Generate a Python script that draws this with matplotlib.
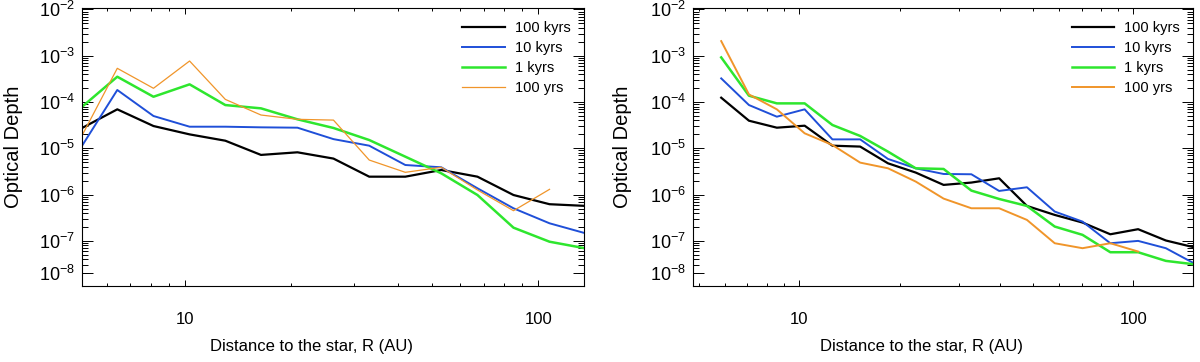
import matplotlib

matplotlib.use("Agg")
from matplotlib import pyplot as plt
from matplotlib.ticker import FixedFormatter, FixedLocator, LogLocator, NullFormatter

plt.rcParams["font.family"] = ["Liberation Sans", "DejaVu Sans"]
plt.rcParams["mathtext.fontset"] = "custom"
plt.rcParams["mathtext.rm"] = "Liberation Sans"
plt.rcParams["mathtext.it"] = "Liberation Sans:italic"

LABELS = ["100 kyrs", "10 kyrs", "1 kyrs", "100 yrs"]
COLORS = ["black", "#1f4fd8", "#2ee62e", "#f0952a"]

# left panel
left_r = [5.09, 6.43, 8.14, 10.3, 13.0, 16.4, 20.8, 26.3, 33.2, 42.0, 53.1, 67.2, 85.0, 107.5, 135.9]
left_100kyr = [2.70e-5, 6.95e-5, 3.03e-5, 2.0e-5, 1.46e-5, 7.2e-6, 8.2e-6, 6.0e-6,
               2.44e-6, 2.44e-6, 3.4e-6, 2.44e-6, 9.8e-7, 6.2e-7, 5.7e-7]
left_10kyr = [1.08e-5, 1.82e-4, 4.99e-5, 2.93e-5, 2.93e-5, 2.84e-5, 2.79e-5, 1.58e-5,
              1.14e-5, 4.36e-6, 3.89e-6, 1.37e-6, 5.06e-7, 2.4e-7, 1.46e-7]
left_1kyr = [7.67e-5, 3.52e-4, 1.30e-4, 2.41e-4, 8.6e-5, 7.3e-5, 4.23e-5, 2.75e-5,
             1.51e-5, 6.6e-6, 2.88e-6, 9.8e-7, 1.93e-7, 9.6e-8, 6.9e-8]
left_100yr = [1.78e-5, 5.35e-4, 1.98e-4, 7.69e-4, 1.14e-4, 5.24e-5, 4.23e-5, 4.07e-5,
              5.58e-6, 3.03e-6, 3.89e-6, 1.26e-6, 4.49e-7, 1.30e-6]

# right panel
right_r = [5.84, 7.07, 8.57, 10.38, 12.57, 15.22, 18.44, 22.33, 27.05, 32.76, 39.67,
           48.05, 58.2, 70.49, 85.37, 103.4, 125.2, 151.7]
right_100kyr = [1.24e-4, 3.95e-5, 2.79e-5, 3.08e-5, 1.14e-5, 1.09e-5, 4.74e-6, 2.99e-6,
                1.62e-6, 1.82e-6, 2.25e-6, 5.69e-7, 3.64e-7, 2.49e-7, 1.39e-7, 1.79e-7,
                1.02e-7, 7.3e-8]
right_10kyr = [3.24e-4, 8.61e-5, 4.82e-5, 6.95e-5, 1.56e-5, 1.56e-5, 5.89e-6, 3.70e-6,
               2.79e-6, 2.75e-6, 1.20e-6, 1.44e-6, 4.30e-7, 2.61e-7, 8.9e-8, 1.0e-7,
               6.95e-8, 3.3e-8]
right_1kyr = [9.2e-4, 1.37e-4, 9.35e-5, 9.35e-5, 3.19e-5, 1.85e-5, 8.47e-6, 3.70e-6,
              3.58e-6, 1.22e-6, 8.05e-7, 5.69e-7, 2.04e-7, 1.35e-7, 5.69e-8, 5.69e-8,
              3.70e-8, 3.13e-8]
right_100yr = [2.07e-3, 1.46e-4, 6.95e-5, 2.11e-5, 1.18e-5, 4.91e-6, 3.70e-6, 1.91e-6,
               8.2e-7, 5.07e-7, 5.07e-7, 2.84e-7, 8.9e-8, 6.95e-8, 8.9e-8, 5.89e-8]

y_ticks = [1e-2, 1e-3, 1e-4, 1e-5, 1e-6, 1e-7, 2.06e-8]
y_tick_labels = [r"$10^{-2}$", r"$10^{-3}$", r"$10^{-4}$", r"$10^{-5}$",
                 r"$10^{-6}$", r"$10^{-7}$", r"$10^{-8}$"]


def style_axis(ax, xlim):
    ax.set_xscale("log")
    ax.set_yscale("log")
    ax.set_xlim(*xlim)
    ax.set_ylim(1.06e-8, 1.057e-2)

    ax.xaxis.set_major_locator(FixedLocator([10, 100]))
    ax.xaxis.set_major_formatter(FixedFormatter(["10", "100"]))
    ax.xaxis.set_minor_locator(LogLocator(base=10, subs=range(2, 10), numticks=20))
    ax.xaxis.set_minor_formatter(NullFormatter())

    ax.yaxis.set_major_locator(FixedLocator(y_ticks))
    ax.yaxis.set_major_formatter(FixedFormatter(y_tick_labels))
    ax.yaxis.set_minor_locator(LogLocator(base=10, subs=range(2, 10), numticks=20))
    ax.yaxis.set_minor_formatter(NullFormatter())

    ax.tick_params(axis="both", which="both", direction="in", top=True, right=True,
                   width=0.7, color="black")
    ax.tick_params(axis="y", which="major", length=7.7, labelsize=13, pad=5)
    ax.tick_params(axis="y", which="minor", length=4.3)
    ax.tick_params(axis="x", which="major", length=4.5, labelsize=12, pad=19)
    ax.tick_params(axis="x", which="minor", length=2.5)

    for s in ax.spines.values():
        s.set_linewidth(0.8)

    ax.legend(loc="upper left", bbox_to_anchor=(0.758, 0.955), frameon=False,
              fontsize=10.5, handlelength=2.9, handletextpad=0.68,
              labelspacing=0.42, borderpad=0, borderaxespad=0)


fig = plt.figure(figsize=(12, 3.62), dpi=100)
ax_l = fig.add_axes([0.0681, 0.2099, 0.4186, 0.7671])
ax_r = fig.add_axes([0.5773, 0.2099, 0.4169, 0.7671])

left_series = [left_100kyr, left_10kyr, left_1kyr, left_100yr]
left_widths = [1.6, 1.4, 1.8, 0.9]
for vals, col, lab, lw in zip(left_series, COLORS, LABELS, left_widths):
    ax_l.plot(left_r[:len(vals)], vals, color=col, lw=lw, label=lab)

right_series = [right_100kyr, right_10kyr, right_1kyr, right_100yr]
right_widths = [1.6, 1.4, 1.8, 1.4]
for vals, col, lab, lw in zip(right_series, COLORS, LABELS, right_widths):
    ax_r.plot(right_r[:len(vals)], vals, color=col, lw=lw, label=lab)

style_axis(ax_l, (5.10, 134.6))
style_axis(ax_r, (4.80, 151.0))

for x in (13.7 / 1200, 623 / 1200):
    fig.text(x, 1 - 146.7 / 362, "Optical Depth", rotation=90, ha="center",
             va="center", fontsize=14.5)
for x in (311.7 / 1200, 922 / 1200):
    fig.text(x, 1 - 347 / 362, "Distance to the star, R (AU)", ha="center",
             va="center", fontsize=12)

fig.savefig("out.png", dpi=100)
plt.close(fig)
